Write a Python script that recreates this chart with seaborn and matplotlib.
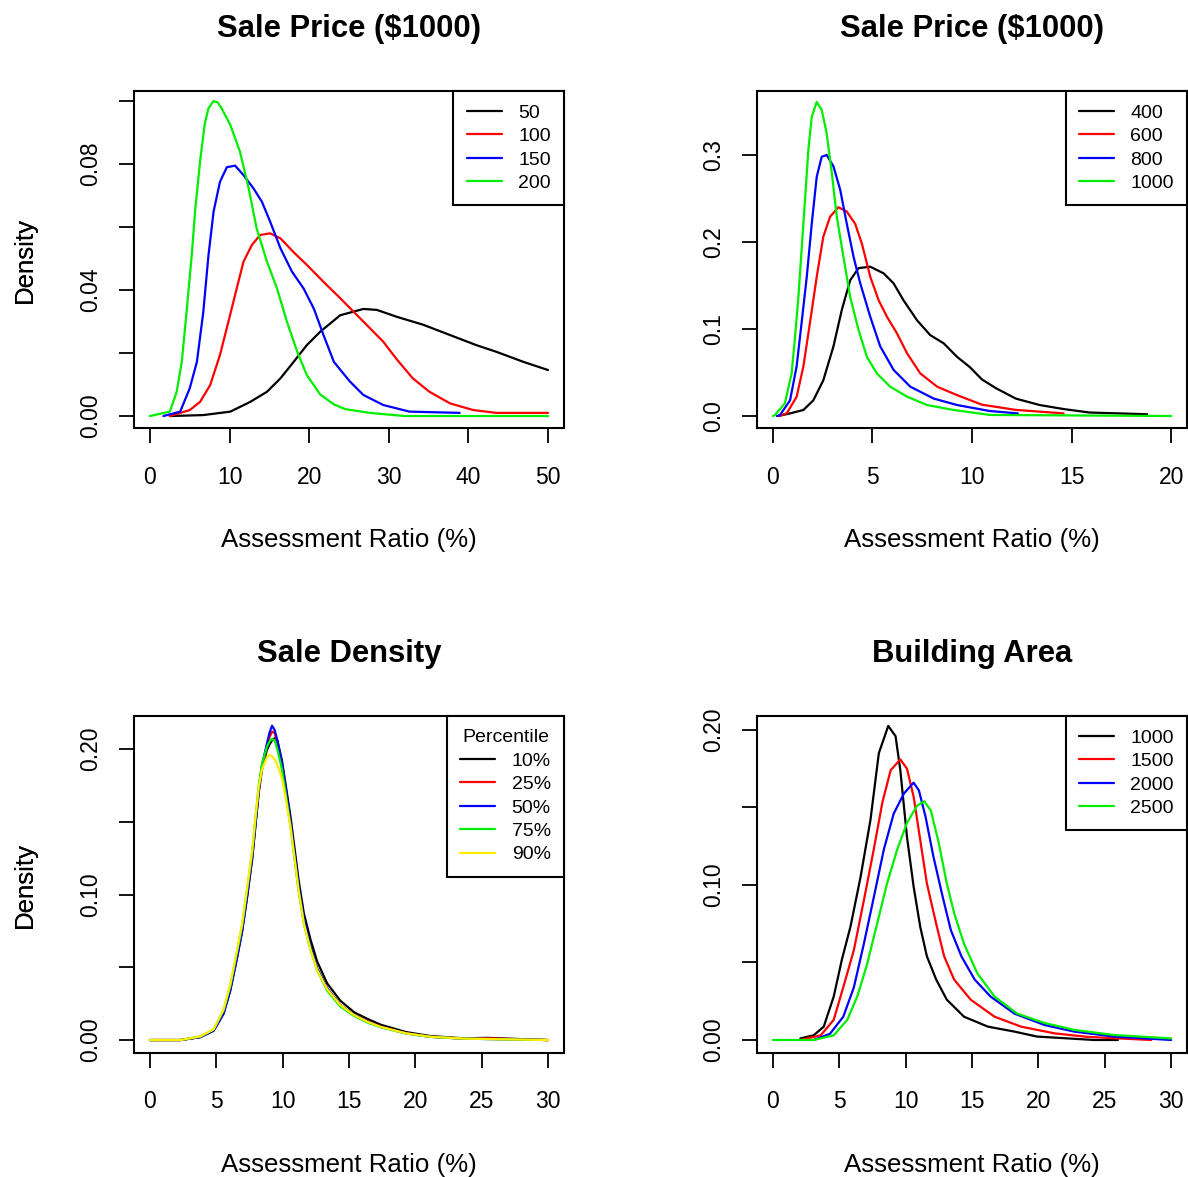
import numpy as np
import pandas as pd
import matplotlib
matplotlib.use("Agg")
import matplotlib.pyplot as plt
import seaborn as sns

# ---------------- data ----------------
# Panel 1: Sale Price ($1000) = 50, 100, 150, 200
p1_50_x = [2.5, 6.7, 10.1, 12.6, 14.7, 16.4, 18.05, 19.7, 21.4, 23.9, 26.8, 28.5, 31.0, 34.3, 37.7, 41.0, 43.5, 46.9, 50.0]
p1_50_y = [0.0, 0.0003, 0.0014, 0.0045, 0.0077, 0.012, 0.0172, 0.0225, 0.0268, 0.032, 0.034, 0.0337, 0.0315, 0.029, 0.0257, 0.0225, 0.0204, 0.0172, 0.0146]
p1_100_x = [2.5, 5.0, 6.3, 7.56, 8.8, 9.86, 10.9, 11.75, 12.8, 13.85, 15.1, 16.4, 18.05, 19.7, 21.8, 23.9, 26.8, 29.3, 31.0, 33.0, 35.1, 37.7, 40.6, 43.5, 50.0]
p1_100_y = [0.0, 0.0019, 0.0045, 0.0098, 0.0194, 0.030, 0.0405, 0.049, 0.0543, 0.0575, 0.058, 0.0564, 0.052, 0.048, 0.0426, 0.0374, 0.030, 0.0236, 0.018, 0.012, 0.0077, 0.004, 0.0019, 0.001, 0.001]
p1_150_x = [1.7, 3.8, 5.0, 5.9, 6.7, 7.35, 8.0, 8.8, 9.66, 10.7, 11.75, 13.0, 14.07, 15.1, 16.4, 17.85, 19.3, 20.6, 21.8, 23.1, 25.1, 26.8, 29.3, 32.6, 38.9]
p1_150_y = [0.0, 0.0014, 0.0088, 0.0172, 0.033, 0.051, 0.065, 0.0744, 0.079, 0.0795, 0.0765, 0.0723, 0.068, 0.0617, 0.0532, 0.0458, 0.0405, 0.034, 0.0257, 0.0172, 0.011, 0.0067, 0.0035, 0.0014, 0.001]
p1_200_x = [0.0, 2.5, 3.36, 4.0, 4.6, 5.25, 5.67, 6.3, 6.9, 7.35, 7.97, 8.5, 9.0, 10.1, 11.3, 12.4, 13.4, 14.7, 15.96, 17.2, 18.5, 19.7, 21.4, 23.1, 24.5, 27.6, 32.0, 50.0]
p1_200_y = [0.0, 0.0014, 0.0077, 0.0172, 0.033, 0.051, 0.065, 0.081, 0.093, 0.0977, 0.100, 0.0996, 0.0977, 0.0924, 0.084, 0.0723, 0.0596, 0.049, 0.0405, 0.030, 0.0204, 0.013, 0.0068, 0.0037, 0.0022, 0.001, 0.0, 0.0]

# Panel 2: Sale Price ($1000) = 400, 600, 800, 1000
p2_400_x = [0.28, 0.86, 1.53, 2.03, 2.53, 3.04, 3.46, 3.88, 4.3, 4.89, 5.56, 6.06, 6.56, 7.24, 7.9, 8.58, 9.25, 9.9, 10.5, 11.2, 12.2, 13.4, 14.6, 15.9, 18.8]
p2_400_y = [0.0, 0.003, 0.0069, 0.018, 0.041, 0.080, 0.122, 0.156, 0.170, 0.1716, 0.164, 0.1525, 0.133, 0.110, 0.093, 0.0835, 0.068, 0.056, 0.042, 0.032, 0.020, 0.0126, 0.008, 0.004, 0.002]
p2_600_x = [0.28, 0.69, 1.19, 1.53, 1.86, 2.2, 2.53, 2.87, 3.29, 3.71, 4.13, 4.47, 4.89, 5.31, 5.73, 6.23, 6.74, 7.4, 8.25, 9.25, 10.5, 12.2, 14.6]
p2_600_y = [0.0, 0.003, 0.022, 0.057, 0.107, 0.160, 0.206, 0.229, 0.240, 0.235, 0.221, 0.198, 0.160, 0.133, 0.114, 0.095, 0.072, 0.049, 0.0337, 0.024, 0.013, 0.007, 0.003]
p2_800_x = [0.2, 0.35, 0.86, 1.19, 1.44, 1.7, 1.95, 2.2, 2.45, 2.7, 3.04, 3.38, 3.71, 4.05, 4.38, 4.89, 5.39, 6.06, 6.9, 8.08, 9.25, 10.9, 12.3]
p2_800_y = [0.0, 0.001, 0.018, 0.057, 0.107, 0.160, 0.221, 0.275, 0.298, 0.300, 0.287, 0.260, 0.221, 0.183, 0.153, 0.114, 0.080, 0.053, 0.0337, 0.020, 0.0126, 0.0057, 0.003]
p2_1000_x = [0.0, 0.1, 0.6, 0.94, 1.11, 1.28, 1.44, 1.61, 1.78, 1.95, 2.2, 2.45, 2.7, 2.96, 3.21, 3.54, 3.88, 4.3, 4.72, 5.22, 5.89, 6.74, 7.74, 9.08, 10.9, 20.0]
p2_1000_y = [0.0, 0.001, 0.0146, 0.049, 0.091, 0.137, 0.191, 0.248, 0.306, 0.344, 0.361, 0.352, 0.325, 0.279, 0.229, 0.183, 0.137, 0.0989, 0.068, 0.049, 0.0337, 0.0222, 0.0126, 0.0069, 0.0012, 0.0]

# Panel 3: Sale Density percentiles (common x grid)
p3_x = [0.0, 2.3, 3.8, 4.8, 5.55, 6.05, 6.55, 6.95, 7.3, 7.7, 7.95, 8.2, 8.45, 8.8, 9.0, 9.2, 9.4, 9.6, 9.95, 10.2, 10.6, 10.95, 11.2, 11.6, 12.1, 12.6, 13.35, 14.35, 15.4, 16.4, 17.4, 19.3, 21.1, 23.6, 25.4, 30.0]
p3_10_y = [0.0, 0.0, 0.002, 0.0065, 0.0185, 0.034, 0.056, 0.075, 0.097, 0.124, 0.147, 0.170, 0.186, 0.199, 0.203, 0.206, 0.2075, 0.206, 0.192, 0.177, 0.153, 0.128, 0.110, 0.087, 0.069, 0.054, 0.039, 0.027, 0.019, 0.0145, 0.0105, 0.0055, 0.0028, 0.0012, 0.0015, 0.0]
p3_25_y = [0.0, 0.0, 0.0022, 0.0068, 0.019, 0.035, 0.057, 0.076, 0.098, 0.126, 0.149, 0.172, 0.188, 0.202, 0.208, 0.212, 0.211, 0.204, 0.189, 0.173, 0.148, 0.122, 0.104, 0.081, 0.063, 0.049, 0.0355, 0.024, 0.017, 0.0128, 0.0092, 0.0048, 0.0023, 0.001, 0.0012, 0.0]
p3_50_y = [0.0, 0.0, 0.002, 0.0064, 0.018, 0.034, 0.056, 0.075, 0.097, 0.125, 0.148, 0.172, 0.189, 0.203, 0.211, 0.216, 0.213, 0.206, 0.190, 0.175, 0.150, 0.124, 0.106, 0.083, 0.064, 0.049, 0.0355, 0.024, 0.017, 0.0126, 0.009, 0.0046, 0.0022, 0.001, 0.0007, 0.0]
p3_75_y = [0.0, 0.0, 0.0024, 0.0072, 0.0205, 0.037, 0.060, 0.079, 0.102, 0.129, 0.152, 0.175, 0.190, 0.201, 0.205, 0.207, 0.206, 0.200, 0.186, 0.171, 0.146, 0.121, 0.103, 0.080, 0.062, 0.048, 0.034, 0.023, 0.0165, 0.012, 0.0088, 0.0045, 0.0022, 0.001, 0.0007, 0.0]
p3_90_y = [0.0, 0.0, 0.0025, 0.0074, 0.021, 0.038, 0.061, 0.080, 0.103, 0.130, 0.153, 0.174, 0.186, 0.194, 0.196, 0.195, 0.193, 0.189, 0.180, 0.168, 0.146, 0.121, 0.103, 0.080, 0.062, 0.048, 0.035, 0.024, 0.017, 0.0125, 0.009, 0.0046, 0.0023, 0.001, 0.0007, 0.0]

# Panel 4: Building Area
p4_1000_x = [2.07, 3.07, 3.83, 4.58, 5.2, 5.84, 6.6, 7.35, 7.98, 8.69, 9.24, 9.6, 10.1, 10.6, 11.1, 11.6, 12.3, 13.1, 14.4, 16.2, 18.2, 19.9, 24.2, 26.0]
p4_1000_y = [0.001, 0.003, 0.0086, 0.028, 0.052, 0.073, 0.105, 0.142, 0.185, 0.2026, 0.196, 0.174, 0.131, 0.099, 0.073, 0.054, 0.039, 0.026, 0.015, 0.0086, 0.0054, 0.0022, 0.0, 0.0]
p4_1500_x = [2.07, 3.6, 4.58, 5.3, 6.1, 6.85, 7.6, 8.24, 8.87, 9.6, 10.1, 10.6, 11.1, 11.6, 12.3, 12.9, 13.65, 14.9, 16.7, 18.7, 21.2, 23.7, 28.5]
p4_1500_y = [0.0, 0.003, 0.013, 0.034, 0.058, 0.090, 0.123, 0.153, 0.174, 0.181, 0.175, 0.157, 0.129, 0.101, 0.075, 0.054, 0.039, 0.026, 0.015, 0.0086, 0.0043, 0.002, 0.0]
p4_2000_x = [3.07, 4.3, 5.3, 6.1, 6.85, 7.6, 8.36, 9.1, 9.87, 10.6, 11.0, 11.5, 12.1, 12.8, 13.4, 14.2, 15.2, 16.4, 18.2, 20.45, 22.7, 25.7, 30.0]
p4_2000_y = [0.0, 0.004, 0.015, 0.034, 0.062, 0.092, 0.123, 0.146, 0.159, 0.166, 0.161, 0.144, 0.118, 0.092, 0.071, 0.054, 0.039, 0.028, 0.017, 0.0097, 0.0054, 0.0022, 0.0]
p4_2500_x = [0.0, 3.07, 4.58, 5.6, 6.35, 7.1, 7.85, 8.6, 9.37, 10.1, 10.85, 11.4, 11.9, 12.5, 13.1, 13.65, 14.4, 15.4, 16.7, 18.4, 20.45, 22.7, 25.7, 30.0]
p4_2500_y = [0.0, 0.0, 0.003, 0.013, 0.028, 0.049, 0.075, 0.101, 0.123, 0.140, 0.151, 0.154, 0.148, 0.127, 0.101, 0.082, 0.062, 0.043, 0.028, 0.017, 0.011, 0.0065, 0.0032, 0.001]

# ---------------- styling ----------------
sns.set_style("ticks")
plt.rcParams["font.family"] = ["Liberation Sans", "DejaVu Sans"]
for k in ["text.color", "axes.labelcolor", "xtick.color", "ytick.color",
          "axes.edgecolor"]:
    plt.rcParams[k] = "black"

W, H = 1188, 1177
fig = plt.figure(figsize=(W / 100, H / 100), dpi=100)


def rect(l, t, r, b):
    return [l / W, 1 - b / H, (r - l) / W, (b - t) / H]


TICK_FS = 16.5
LAB_FS = 18.6
TITLE_FS = 22.3
LEG_FS = 14
LW = 1.5


def make_df(series):
    frames = []
    for name, xs, ys in series:
        frames.append(pd.DataFrame({"x": xs, "y": ys, "series": name}))
    return pd.concat(frames, ignore_index=True)


def panel(r, series, colors, title, xlim, ylim, xticks, yticks, ylabels,
          legend_title=None):
    ax = fig.add_axes(rect(*r))
    df = make_df(series)
    names = [s[0] for s in series]
    sns.lineplot(data=df, x="x", y="y", hue="series", hue_order=names,
                 palette=colors, sort=False, estimator=None, legend=False,
                 linewidth=1.6, ax=ax)
    ax.set_xlim(*xlim)
    ax.set_ylim(*ylim)
    ax.set_xticks(xticks)
    ax.set_xticklabels([str(v) for v in xticks], fontsize=TICK_FS)
    ax.set_yticks(yticks)
    ax.set_yticklabels(ylabels, fontsize=TICK_FS, rotation=90, va="center")
    ax.tick_params(axis="both", length=11, width=1.3, color="black",
                   labelcolor="black")
    ax.tick_params(axis="x", pad=16)
    ax.tick_params(axis="y", pad=12)
    for sp in ax.spines.values():
        sp.set_visible(True)
        sp.set_color("black")
        sp.set_linewidth(LW)
    ax.set_xlabel("Assessment Ratio (%)", fontsize=LAB_FS)
    ax.set_ylabel("Density", fontsize=LAB_FS)
    hpx = r[3] - r[1]
    wpx = r[2] - r[0]
    ax.xaxis.label.set_va("center")
    ax.xaxis.set_label_coords(0.5, -(540 - 428) / hpx)
    ax.yaxis.label.set_va("center")
    ax.yaxis.set_label_coords(-(r[0] - 25) / wpx, 0.5)
    ax.set_title(title, fontsize=TITLE_FS, fontweight="bold", color="black",
                 y=1 + (91 - 29) / hpx, pad=0, va="center")
    leg = ax.legend(ax.lines[:len(names)], names, loc="upper right",
                    bbox_to_anchor=(1, 1), borderaxespad=0, frameon=True,
                    fancybox=False, edgecolor="black", framealpha=1,
                    fontsize=LEG_FS, handlelength=1.8, handletextpad=0.85,
                    borderpad=0.68, labelspacing=0.3, title=legend_title,
                    title_fontsize=LEG_FS)
    leg.get_frame().set_linewidth(LW)
    return ax


panel((134, 91, 564, 428),
      [("50", p1_50_x, p1_50_y), ("100", p1_100_x, p1_100_y),
       ("150", p1_150_x, p1_150_y), ("200", p1_200_x, p1_200_y)],
      ["black", "red", "blue", "#00ee00"], "Sale Price ($1000)",
      (-2, 52), (-0.0038, 0.1032), [0, 10, 20, 30, 40, 50],
      [0, 0.02, 0.04, 0.06, 0.08, 0.10], ["0.00", "", "0.04", "", "0.08", ""])

panel((757, 91, 1187, 428),
      [("400", p2_400_x, p2_400_y), ("600", p2_600_x, p2_600_y),
       ("800", p2_800_x, p2_800_y), ("1000", p2_1000_x, p2_1000_y)],
      ["black", "red", "blue", "#00ee00"], "Sale Price ($1000)",
      (-0.8, 20.8), (-0.0138, 0.3736), [0, 5, 10, 15, 20],
      [0, 0.1, 0.2, 0.3], ["0.0", "0.1", "0.2", "0.3"])

panel((134, 716, 564, 1053),
      [("10%", p3_x, p3_10_y), ("25%", p3_x, p3_25_y),
       ("50%", p3_x, p3_50_y), ("75%", p3_x, p3_75_y),
       ("90%", p3_x, p3_90_y)],
      ["black", "red", "blue", "#00ee00", "#ffee00"], "Sale Density",
      (-1.2, 31.2), (-0.0089, 0.2227), [0, 5, 10, 15, 20, 25, 30],
      [0, 0.05, 0.10, 0.15, 0.20], ["0.00", "", "0.10", "", "0.20"],
      legend_title="Percentile")

panel((757, 716, 1187, 1053),
      [("1000", p4_1000_x, p4_1000_y), ("1500", p4_1500_x, p4_1500_y),
       ("2000", p4_2000_x, p4_2000_y), ("2500", p4_2500_x, p4_2500_y)],
      ["black", "red", "blue", "#00ee00"], "Building Area",
      (-1.2, 31.2), (-0.0084, 0.209), [0, 5, 10, 15, 20, 25, 30],
      [0, 0.05, 0.10, 0.15, 0.20], ["0.00", "", "0.10", "", "0.20"])

fig.savefig("out.png", dpi=100, facecolor="white")
